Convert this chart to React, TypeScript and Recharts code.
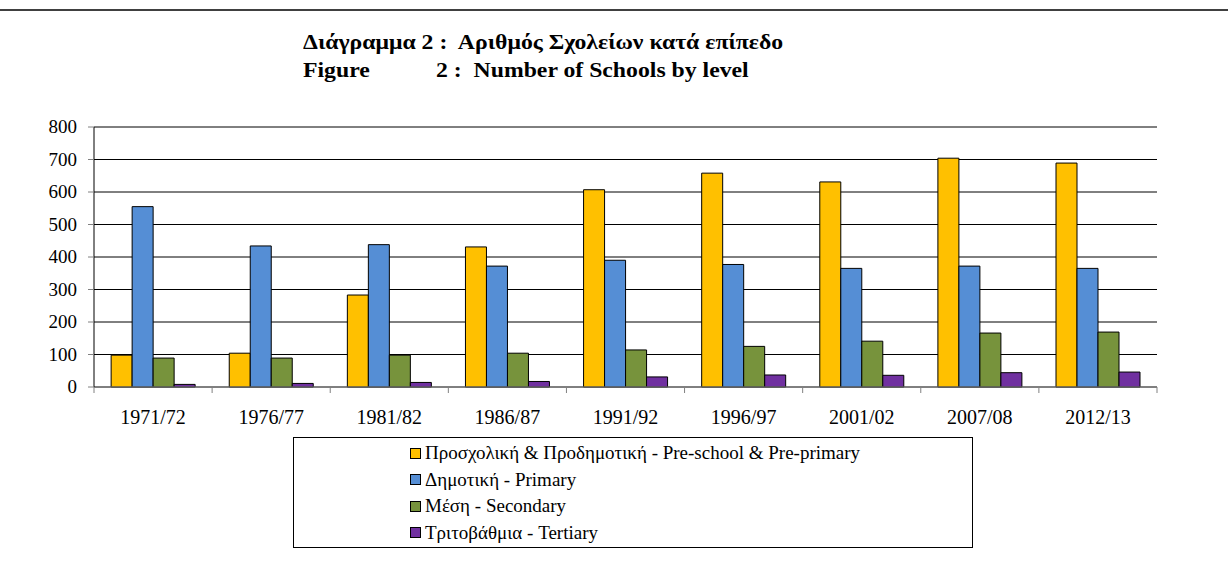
import { BarChart, Bar, XAxis, YAxis, CartesianGrid } from "recharts";

const YEARS = ["1971/72", "1976/77", "1981/82", "1986/87", "1991/92", "1996/97", "2001/02", "2007/08", "2012/13"];
const PRE_PRIMARY = [98, 104, 283, 431, 607, 658, 631, 704, 689];
const PRIMARY = [555, 434, 438, 372, 390, 377, 365, 372, 365];
const SECONDARY = [89, 89, 98, 104, 114, 125, 141, 166, 169];
const TERTIARY = [8, 11, 14, 17, 31, 37, 36, 44, 46];
const Y_TICKS = [0, 100, 200, 300, 400, 500, 600, 700, 800];

const SERIES = [
  { key: "pre", name: "Προσχολική & Προδημοτική - Pre-school & Pre-primary", color: "#FFC000" },
  { key: "pri", name: "Δημοτική - Primary", color: "#558ED5" },
  { key: "sec", name: "Μέση - Secondary", color: "#77933C" },
  { key: "ter", name: "Τριτοβάθμια - Tertiary", color: "#7030A0" },
];

const data = YEARS.map((year, i) => ({
  year,
  pre: PRE_PRIMARY[i],
  pri: PRIMARY[i],
  sec: SECONDARY[i],
  ter: TERTIARY[i],
}));

const FONT = "Liberation Serif";
const W = 1228;
const H = 562;
const MARGIN = { top: 127, right: 71, left: 0, bottom: 135 };
const Y_AXIS_W = 94;
const BAND = (W - MARGIN.right - Y_AXIS_W) / YEARS.length;

function YearTick(props: any) {
  const { x, y, payload, index } = props;
  return (
    <g>
      <line x1={x - BAND / 2} x2={x - BAND / 2} y1={y} y2={y + 6} stroke="#808080" />
      {index === YEARS.length - 1 && (
        <line x1={x + BAND / 2} x2={x + BAND / 2} y1={y} y2={y + 6} stroke="#808080" />
      )}
      <text x={x} y={y + 37} textAnchor="middle" style={{ fontSize: 20, fontFamily: FONT }} fill="#000">
        {payload.value}
      </text>
    </g>
  );
}

function ValueTick(props: any) {
  const { x, y, payload } = props;
  return (
    <text x={x} y={y + 6} textAnchor="end" style={{ fontSize: 19, fontFamily: FONT }} fill="#000">
      {payload.value}
    </text>
  );
}

const titleStyle = {
  position: "absolute" as const,
  fontSize: 21,
  fontWeight: "bold" as const,
  whiteSpace: "pre" as const,
  lineHeight: "22px",
  fontFamily: FONT,
  transform: "scaleX(1.13)",
  transformOrigin: "left top",
};

export default function App() {
  return (
    <div style={{ position: "absolute", left: 0, top: 0, width: W, height: H, background: "#fff", fontFamily: FONT }}>
      <div style={{ position: "absolute", left: 0, top: 9, width: W, height: 2, background: "#404040" }} />
      <div style={{ ...titleStyle, left: 303, top: 31 }}>Διάγραμμα 2 :  Αριθμός Σχολείων κατά επίπεδο</div>
      <div style={{ ...titleStyle, left: 303, top: 59 }}>Figure</div>
      <div style={{ ...titleStyle, left: 436, top: 59 }}>2 :  Number of Schools by level</div>

      <div style={{ position: "absolute", left: 0, top: 0 }}>
        <BarChart width={W} height={H} data={data} margin={MARGIN} barCategoryGap="14.5%" barGap={0}>
          <CartesianGrid vertical={false} stroke="#000" />
          <XAxis
            dataKey="year"
            height={40}
            axisLine={{ stroke: "#808080" }}
            tickLine={false}
            tickSize={0}
            tickMargin={0}
            interval={0}
            tick={<YearTick />}
          />
          <YAxis
            domain={[0, 800]}
            ticks={Y_TICKS}
            width={Y_AXIS_W}
            axisLine={{ stroke: "#000" }}
            tickLine={{ stroke: "#808080" }}
            tickSize={6}
            tickMargin={11}
            tick={<ValueTick />}
          />
          <YAxis
            yAxisId="right"
            orientation="right"
            domain={[0, 800]}
            width={0}
            tick={false}
            tickLine={false}
            axisLine={{ stroke: "#606060" }}
          />
          {SERIES.map((s) => (
            <Bar key={s.key} dataKey={s.key} name={s.name} fill={s.color} stroke="#000" strokeWidth={1} isAnimationActive={false} />
          ))}
        </BarChart>
      </div>

      <div
        style={{
          position: "absolute",
          left: 293,
          top: 437,
          width: 678,
          height: 109,
          border: "1px solid #000",
        }}
      >
        {SERIES.map((s, i) => (
          <div
            key={s.key}
            style={{
              position: "absolute",
              left: 116,
              top: 3 + i * 26.5,
              height: 24,
              display: "flex",
              alignItems: "center",
              fontSize: 19,
              whiteSpace: "nowrap",
              fontFamily: FONT,
            }}
          >
            <span style={{ display: "inline-block", width: 9, height: 9, background: s.color, border: "1px solid #000", marginRight: 4 }} />
            {s.name}
          </div>
        ))}
      </div>
    </div>
  );
}
